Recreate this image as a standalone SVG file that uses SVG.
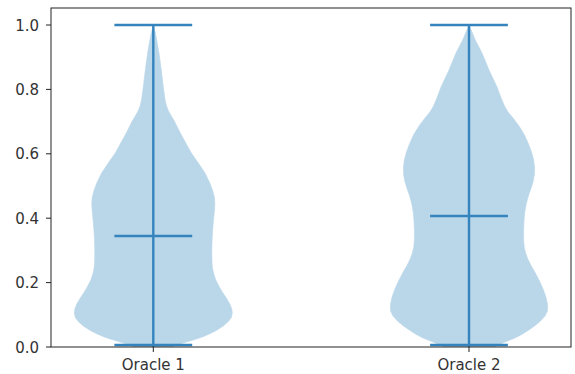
<svg xmlns="http://www.w3.org/2000/svg" width="575" height="374" viewBox="0 0 575 374">
<defs>
<style>
.body{fill:#bad6e9;stroke:#bad6e9;stroke-width:0.6;stroke-linejoin:round}
.vl{stroke:#3584bd;stroke-width:2.4;fill:none}
.spine{stroke:#222;stroke-width:1;fill:none}
.tick{stroke:#222;stroke-width:1}
.lbl{font-family:"DejaVu Sans",sans-serif;font-size:15px;fill:#333}
</style>
<clipPath id="ax"><rect x="51" y="8" width="520" height="339"/></clipPath>
</defs>
<rect width="575" height="374" fill="#fff"/>
<g clip-path="url(#ax)">
<g id="violin1" transform="translate(153.3,0)">
<path class="body" d="M0,25 L2.5,35 5.7,53 8,70 10,87 11.8,100 13.2,106 15.2,111 18,116 21,121 27,133 32.5,143 38,153 45,163 51.7,173 56.5,183 59.5,191 61.2,198 61.5,205 61,212 60.2,220 59.5,228 59,236 58.6,245 58.5,255 58.7,263 59.3,269 60.5,274 62.5,280 65.5,286 69,292 73,298 76.5,304 78.5,309 79,313 78,317.5 75,321.5 70,326 63,330.5 56,334 49,337 40,340 33,342 26.7,344 21,346 19,348 L-19,348 -21,346 -26.7,344 -33,342 -40,340 -49,337 -56,334 -63,330.5 -70,326 -75,321.5 -78,317.5 -79,313 -78.5,309 -76.5,304 -73,298 -69,292 -65.5,286 -62.5,280 -60.5,274 -59.3,269 -58.7,263 -58.5,255 -58.6,245 -59,236 -59.5,228 -60.2,220 -61,212 -61.5,205 -61.2,198 -59.5,191 -56.5,183 -51.7,173 -45,163 -38,153 -32.5,143 -27,133 -21,121 -18,116 -15.2,111 -13.2,106 -11.8,100 -10,87 -8,70 -5.7,53 -2.5,35 Z"/>
<line class="vl" x1="0" y1="25" x2="0" y2="347"/>
<line class="vl" x1="-38.9" y1="25" x2="38.9" y2="25"/>
<line class="vl" x1="-38.9" y1="345" x2="38.9" y2="345" stroke-width="3.4"/>
<line class="vl" x1="-38.9" y1="236" x2="38.9" y2="236"/>
</g>
<g id="violin2" transform="translate(469,0)">
<path class="body" d="M0,25 L3,32 6.3,40 13,53 20,70 28,87 32.5,99 35.5,106 39,112 44,118 50,126 55.5,135 59.5,144 62.5,152 64.7,160 65.6,168 65.3,175 64,182 61.8,189 59.3,196 57.2,204 55.8,212 55,220 54.6,230 54.6,240 55.2,247 56.6,253 58.8,259 62,265.5 65.8,272 70.5,281 74.5,290 77.2,298 78.6,305 78.4,311 76,316 71.5,321 65.5,326 59,330.5 52.7,334.5 46,338 36,342 29,345 24,348 L-24,348 -29,345 -36,342 -46,338 -52.7,334.5 -59,330.5 -65.5,326 -71.5,321 -76,316 -78.4,311 -78.6,305 -77.2,298 -74.5,290 -70.5,281 -65.8,272 -62,265.5 -58.8,259 -56.6,253 -55.2,247 -54.6,240 -54.6,230 -55,220 -55.8,212 -57.2,204 -59.3,196 -61.8,189 -64,182 -65.3,175 -65.6,168 -64.7,160 -62.5,152 -59.5,144 -55.5,135 -50,126 -44,118 -39,112 -35.5,106 -32.5,99 -28,87 -20,70 -13,53 -6.3,40 -3,32 Z"/>
<line class="vl" x1="0" y1="25" x2="0" y2="347"/>
<line class="vl" x1="-38.9" y1="25" x2="38.9" y2="25"/>
<line class="vl" x1="-38.9" y1="345" x2="38.9" y2="345" stroke-width="3.4"/>
<line class="vl" x1="-38.9" y1="216" x2="38.9" y2="216"/>
</g>
</g>
<g id="axes">
<rect class="spine" x="51" y="8" width="520" height="339"/>
<g class="tick">
<line x1="46" y1="347" x2="51" y2="347"/>
<line x1="46" y1="282.6" x2="51" y2="282.6"/>
<line x1="46" y1="218.2" x2="51" y2="218.2"/>
<line x1="46" y1="153.8" x2="51" y2="153.8"/>
<line x1="46" y1="89.4" x2="51" y2="89.4"/>
<line x1="46" y1="25" x2="51" y2="25"/>
<line x1="153.3" y1="347" x2="153.3" y2="352"/>
<line x1="469" y1="347" x2="469" y2="352"/>
</g>
<g class="lbl" text-anchor="end">
<text x="39" y="352.5">0.0</text>
<text x="39" y="288.1">0.2</text>
<text x="39" y="223.7">0.4</text>
<text x="39" y="159.3">0.6</text>
<text x="39" y="94.9">0.8</text>
<text x="39" y="30.5">1.0</text>
</g>
<g class="lbl" text-anchor="middle">
<text x="153.3" y="369.5">Oracle 1</text>
<text x="469" y="369.5">Oracle 2</text>
</g>
</g>
</svg>
